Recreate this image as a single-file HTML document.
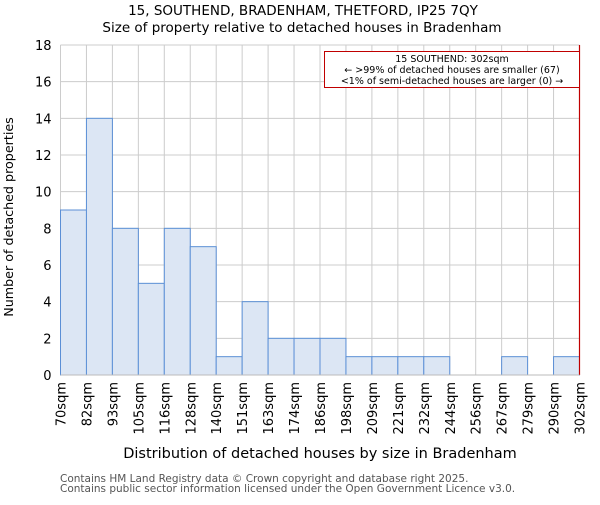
<!DOCTYPE html>
<html><head><meta charset="utf-8"><style>
body{margin:0;background:#fff;font-family:"Liberation Sans","DejaVu Sans",sans-serif}
svg text{font-family:"DejaVu Sans","Liberation Sans",sans-serif}
</style></head><body>
<svg id="c" width="600" height="500" xmlns="http://www.w3.org/2000/svg">
<text x="303" y="15" text-anchor="middle" font-size="13.5">15, SOUTHEND, BRADENHAM, THETFORD, IP25 7QY</text>
<text x="302" y="32" text-anchor="middle" font-size="13.5">Size of property relative to detached houses in Bradenham</text>
<g id="grid"></g><g id="bars"></g><g id="axes"></g>
<text x="320" y="458" text-anchor="middle" font-size="14.5">Distribution of detached houses by size in Bradenham</text>
<text transform="translate(13,217) rotate(-90)" text-anchor="middle" font-size="12.7">Number of detached properties</text>
<g>
<rect x="324.5" y="51.5" width="255" height="36" fill="#fff" stroke="#c00000" stroke-width="1"/>
<text x="452" y="62" text-anchor="middle" font-size="9.5">15 SOUTHEND: 302sqm</text>
<text x="452" y="73" text-anchor="middle" font-size="9.5">← &gt;99% of detached houses are smaller (67)</text>
<text x="452" y="84" text-anchor="middle" font-size="9.5">&lt;1% of semi-detached houses are larger (0) →</text>
</g>
<text x="60" y="482" font-size="10.5" fill="#555">Contains HM Land Registry data © Crown copyright and database right 2025.</text>
<text x="60" y="492" font-size="10.5" fill="#555">Contains public sector information licensed under the Open Government Licence v3.0.</text>
</svg>
<script>
const binLabels=["70sqm","82sqm","93sqm","105sqm","116sqm","128sqm","140sqm","151sqm","163sqm","174sqm","186sqm","198sqm","209sqm","221sqm","232sqm","244sqm","256sqm","267sqm","279sqm","290sqm","302sqm"];
const counts=[9,14,8,5,8,7,1,4,2,2,2,1,1,1,1,0,0,1,0,1];
const yTicks=[0,2,4,6,8,10,12,14,16,18];
const markerIndex=20;
const L=60.5,R=579.5,T=45,B=375,yMax=18;
const ns="http://www.w3.org/2000/svg";
const bw=(R-L)/counts.length;
const xs=i=>L+i*bw, ys=v=>B-(v/yMax)*(B-T);
function mk(t,a,p){const e=document.createElementNS(ns,t);for(const k in a)e.setAttribute(k,a[k]);p.appendChild(e);return e;}
const g=document.getElementById('grid'),b=document.getElementById('bars'),ax=document.getElementById('axes');
yTicks.forEach(v=>{
 const l=mk('line',{x1:L,x2:R,y1:ys(v),y2:ys(v),stroke:'#ccc','stroke-width':1},g);
 
 
 const t=mk('text',{x:L-9,y:ys(v)+5,'text-anchor':'end','font-size':13},ax);
 t.textContent=v;
 
 
});
binLabels.forEach((s,i)=>{
 const x=xs(i);
 const l=mk('line',{x1:x,x2:x,y1:T,y2:B,stroke:'#ccc','stroke-width':1},g);
 
 
 const t=mk('text',{transform:`translate(${x+5},${B+7}) rotate(-90)`,'text-anchor':'end','font-size':13},ax);
 t.textContent=s;
 
 
});
counts.forEach((v,i)=>{
 if(v<=0)return;
 const r=mk('rect',{x:xs(i),y:ys(v),width:bw,height:B-ys(v),fill:'#dce6f4',stroke:'#5b8fd6','stroke-width':1},b);
 
 
});
const m=mk('line',{x1:xs(markerIndex),x2:xs(markerIndex),y1:T,y2:B,stroke:'#c00000','stroke-width':1.2},ax);


const xa=mk('line',{x1:L,x2:R,y1:B,y2:B,stroke:'#bbb','stroke-width':1},ax);


</script>
</body></html>
